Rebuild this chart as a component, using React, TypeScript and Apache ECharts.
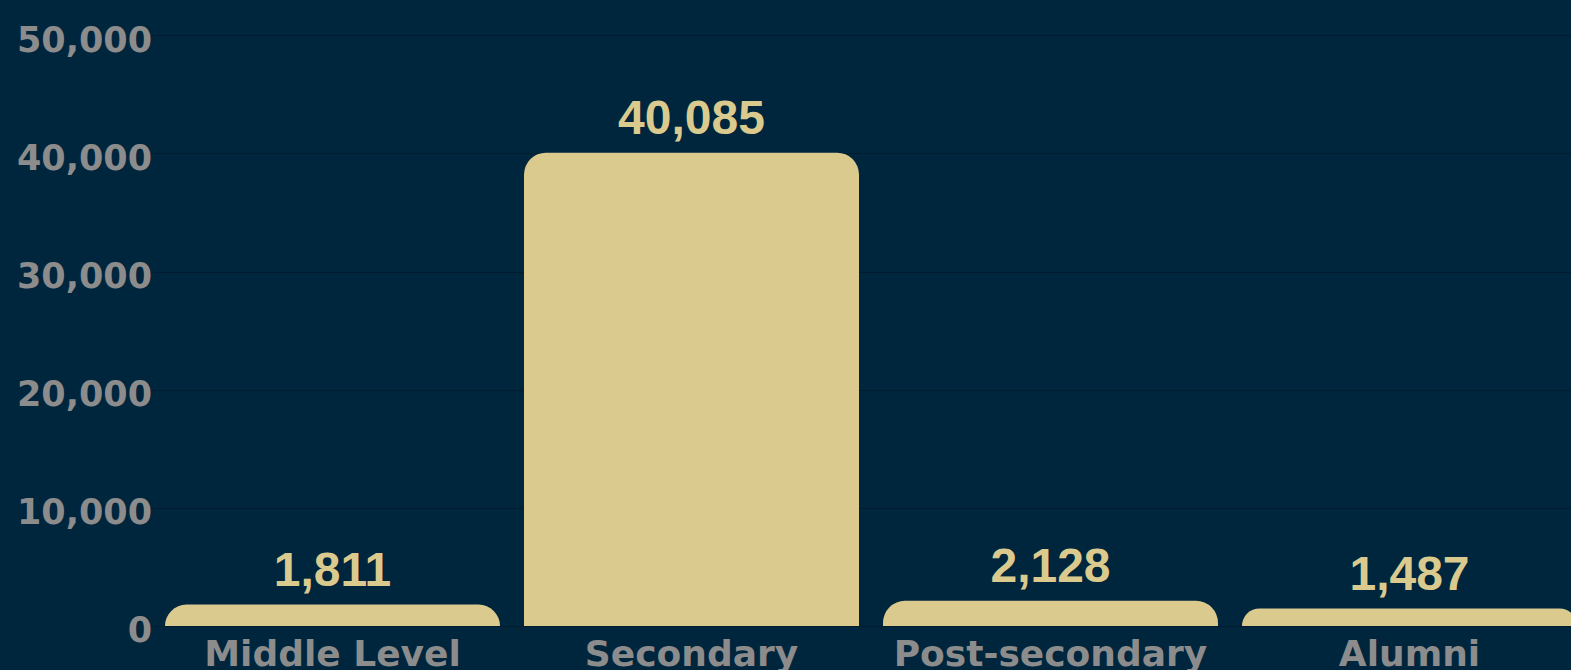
import React, { useEffect, useRef } from "react";
import * as echarts from "echarts";

const categories = ["Middle Level", "Secondary", "Post-secondary", "Alumni"];
const values = [1811, 40085, 2128, 1487];
const yTicks = [0, 10000, 20000, 30000, 40000, 50000];

const BG = "#00263E";
const GOLD = "#DBCA8D";
const GREY = "#8C8C8C";

export default function App() {
  const ref = useRef<HTMLDivElement>(null);
  useEffect(() => {
    document.body.style.background = BG;
    if (!ref.current) return;
    const chart = echarts.init(ref.current, null, { renderer: "svg" });
    chart.setOption({
      animation: false,
      backgroundColor: BG,
      grid: {
        left: 153,
        right: 0,
        top: 35.6,
        bottom: 44,
        containLabel: false,
        outerBoundsMode: "none",
      },
      xAxis: {
        type: "category",
        data: categories,
        axisLine: { show: false },
        axisTick: { show: false },
        axisLabel: {
          interval: 0,
          color: GREY,
          fontFamily: "DejaVu Sans",
          fontWeight: "bold",
          fontSize: 36,
          margin: 9,
          verticalAlign: "top",
        },
      },
      yAxis: {
        type: "value",
        min: yTicks[0],
        max: yTicks[yTicks.length - 1],
        interval: 10000,
        axisLine: { show: false },
        axisTick: { show: false },
        splitLine: { show: true, lineStyle: { color: "rgba(0,0,0,0.22)", width: 1 } },
        axisLabel: {
          color: GREY,
          fontFamily: "DejaVu Sans",
          fontWeight: "bold",
          fontSize: 35,
          margin: 1,
          verticalAlign: "top",
          lineHeight: 8,
          formatter: (v: number) => v.toLocaleString("en-US"),
        },
      },
      series: [
        {
          type: "bar",
          data: values,
          barWidth: 335,
          itemStyle: { color: GOLD, borderRadius: [22, 22, 0, 0] },
          label: {
            show: true,
            position: "top",
            distance: 11,
            color: GOLD,
            fontFamily: "Liberation Sans",
            fontWeight: "bold",
            fontSize: 48,
            formatter: (p: any) => Number(p.value).toLocaleString("en-US"),
          },
        },
      ],
    });
    return () => chart.dispose();
  }, []);
  return (
    <div
      style={{
        position: "fixed",
        left: 0,
        top: 0,
        width: 1571,
        height: 670,
        overflow: "hidden",
        background: BG,
      }}
    >
      <div ref={ref} style={{ width: 1589, height: 670 }} />
    </div>
  );
}
